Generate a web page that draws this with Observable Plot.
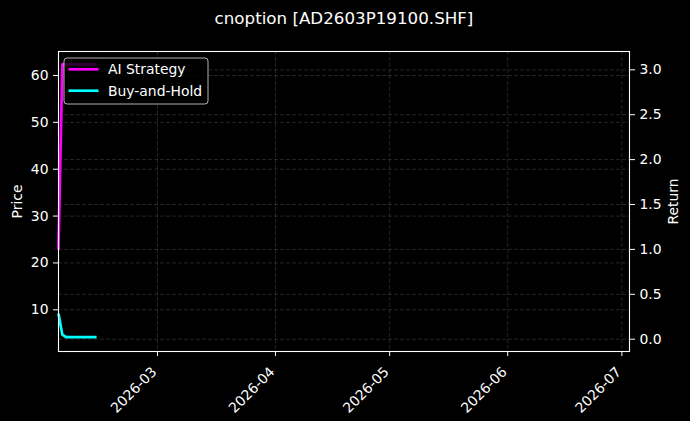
<!DOCTYPE html>
<html>
<head>
<meta charset="utf-8">
<script src="https://cdn.jsdelivr.net/npm/d3@7"></script>
<script src="https://cdn.jsdelivr.net/npm/@observablehq/plot@0.6"></script>
<style>
  html, body { margin: 0; padding: 0; background: #000; overflow: hidden; }
  #chart { width: 690px; height: 421px; }
</style>
</head>
<body>
<div id="chart"></div>
<script>
const title = "cnoption [AD2603P19100.SHF]";
const dates = ["2026-02-03", "2026-02-04", "2026-02-05", "2026-02-06", "2026-02-09", "2026-02-10", "2026-02-11", "2026-02-12", "2026-02-13"];
const aiReturn = [1.0, 3.06, 3.06, 3.06, 3.06, 3.06, 3.06, 3.06, 3.06];
const bhPrice = [9.2, 4.7, 4.15, 4.15, 4.15, 4.15, 4.15, 4.15, 4.15];
const priceTicks = [10, 20, 30, 40, 50, 60];
const returnTicks = [0, 0.5, 1.0, 1.5, 2.0, 2.5, 3.0];
const monthTicks = ["2026-03-01", "2026-04-01", "2026-05-01", "2026-06-01", "2026-07-01"];
const xDomain = ["2026-02-03", "2026-07-03"];
const priceDomain = [1.10, 65.12];
const returnDomain = [-0.137, 3.204];
const seriesNames = ["AI Strategy", "Buy-and-Hold"];
const seriesColors = ["#ff00ff", "#00ffff"];

const toPrice = r => priceDomain[0] + (r - returnDomain[0]) / (returnDomain[1] - returnDomain[0]) * (priceDomain[1] - priceDomain[0]);
const fromPrice = p => returnDomain[0] + (p - priceDomain[0]) / (priceDomain[1] - priceDomain[0]) * (returnDomain[1] - returnDomain[0]);

const parse = d3.utcParse("%Y-%m-%d");
const aiData = dates.map((d, i) => ({date: parse(d), v: toPrice(aiReturn[i])}));
const bhData = dates.map((d, i) => ({date: parse(d), v: bhPrice[i]}));
const monthDates = monthTicks.map(parse);
const returnTickPos = returnTicks.map(toPrice);

const gridStyle = {stroke: "white", strokeOpacity: 0.18, strokeWidth: 0.8, strokeDasharray: "4,2"};

const chart = Plot.plot({
  width: 690,
  height: 421,
  marginLeft: 58,
  marginRight: 61,
  marginTop: 51,
  marginBottom: 70,
  style: {background: "#000", color: "white", fontFamily: "DejaVu Sans", fontSize: "13.9px"},
  x: {type: "utc", domain: xDomain.map(parse)},
  y: {domain: priceDomain},
  marks: [
    Plot.gridX(monthDates, gridStyle),
    Plot.gridY(priceTicks, gridStyle),
    Plot.gridY(returnTickPos, gridStyle),
    Plot.lineY(aiData, {x: "date", y: "v", stroke: seriesColors[0], strokeWidth: 2.7, strokeLinecap: "butt"}),
    Plot.lineY(bhData, {x: "date", y: "v", stroke: seriesColors[1], strokeWidth: 2.7, strokeLinecap: "butt"}),
    Plot.frame({stroke: "white", strokeWidth: 1.1}),
    Plot.axisY(priceTicks, {anchor: "left", tickSize: 5, tickPadding: 5, label: null}),
    Plot.axisY(returnTickPos, {anchor: "right", tickSize: 5, tickPadding: 5, label: null,
      tickFormat: d => (Math.round(fromPrice(d) * 10) / 10).toFixed(1)}),
    Plot.axisX(monthDates, {anchor: "bottom", tickSize: 5, tickFormat: () => "", label: null}),
    Plot.axisX(monthDates, {anchor: "bottom", tickRotate: -45, tickSize: 0, tickPadding: 18, dx: -3,
      tickFormat: d3.utcFormat("%Y-%m"), label: null}),
    Plot.text(["Price"], {frameAnchor: "left", dx: -41, rotate: -90, textAnchor: "middle", lineAnchor: "middle", fill: "white"}),
    Plot.text(["Return"], {frameAnchor: "right", dx: 44, rotate: -90, textAnchor: "middle", lineAnchor: "middle", fill: "white"}),
    Plot.text([title], {frameAnchor: "top", dy: -33, textAnchor: "middle", lineAnchor: "middle", fill: "white", fontSize: 16.7})
  ]
});

// legend inside the axes (upper left)
const g = d3.select(chart).append("g").attr("font-family", "DejaVu Sans").attr("font-size", "13.9px").attr("text-anchor", "start");
g.append("rect").attr("x", 64).attr("y", 58).attr("width", 144).attr("height", 46).attr("rx", 3)
  .attr("fill", "#000").attr("fill-opacity", 0.8).attr("stroke", "#dddddd").attr("stroke-opacity", 0.8).attr("stroke-width", 1);
seriesNames.forEach((name, i) => {
  const y = 69.3 + i * 21.4;
  g.append("line").attr("x1", 68.5).attr("x2", 98.5).attr("y1", y).attr("y2", y)
    .attr("stroke", seriesColors[i]).attr("stroke-width", 2.7);
  g.append("text").attr("x", 108).attr("y", y).attr("dy", "0.35em").attr("fill", "white").attr("text-anchor", "start").text(name);
});

document.getElementById("chart").appendChild(chart);
</script>
</body>
</html>
